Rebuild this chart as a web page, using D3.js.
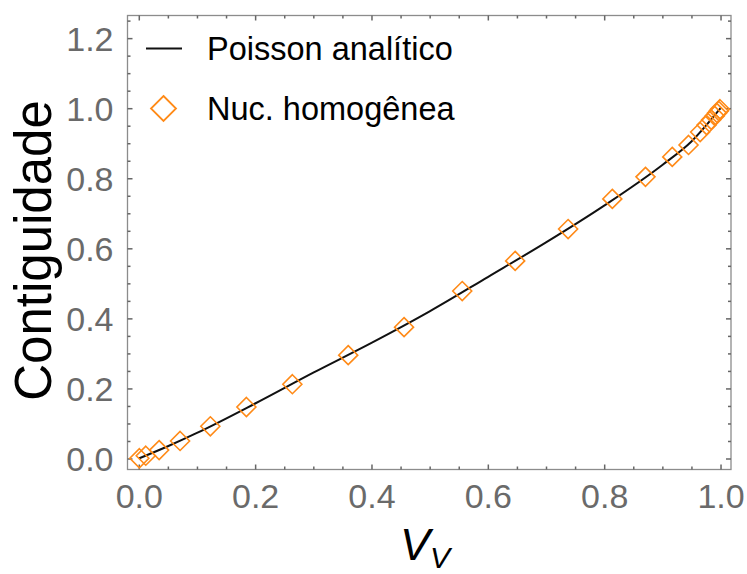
<!DOCTYPE html>
<html>
<head>
<meta charset="utf-8">
<script src="https://cdn.jsdelivr.net/npm/d3@7"></script>
<style>
  html, body { margin: 0; padding: 0; background: #fff; }
  svg { display: block; }
</style>
</head>
<body>
<svg id="chart" width="747" height="574"></svg>
<script>
// Analytic Poisson contiguity curve (V_V, C)
const curveV = [0, 0.05, 0.1, 0.2, 0.3, 0.4, 0.5, 0.6, 0.7, 0.8, 0.9, 0.95, 1.0];
const curveC = [0, 0.035, 0.073, 0.157, 0.245, 0.33, 0.42, 0.518, 0.617, 0.722, 0.838, 0.905, 1.0];

// Simulated homogeneous nucleation (V_V, C)
const simV = [0.001, 0.012, 0.035, 0.071, 0.123, 0.185, 0.264, 0.360, 0.456, 0.556, 0.647, 0.738, 0.814, 0.871, 0.917, 0.945, 0.965, 0.976, 0.984, 0.990, 0.994, 0.997, 0.999];
const simC = [0.0007, 0.008, 0.024, 0.050, 0.092, 0.147, 0.212, 0.295, 0.375, 0.478, 0.564, 0.655, 0.741, 0.804, 0.861, 0.895, 0.932, 0.952, 0.967, 0.978, 0.986, 0.992, 0.997];

const xTicks = [0, 0.2, 0.4, 0.6, 0.8, 1.0];
const yTicks = [0, 0.2, 0.4, 0.6, 0.8, 1.0, 1.2];
const legendLabels = ["Poisson analítico", "Nuc. homogênea"];

const svg = d3.select("#chart");
const frame = { left: 127.5, right: 731, top: 15.5, bottom: 469.5 };

const x = d3.scaleLinear().domain([-0.0194, 1.018]).range([frame.left, frame.right]);
const y = d3.scaleLinear().domain([-0.0314, 1.2646]).range([frame.bottom, frame.top]);

const frameColor = "#8c8c8c";
const labelColor = "#6a6a6a";
const orange = "#ff8a17";
const font = "'Liberation Sans', Arial, sans-serif";

const minorX = d3.range(0, 1.0001, 0.05).filter(v => !xTicks.some(t => Math.abs(t - v) < 1e-6));
const minorY = d3.range(0, 1.2501, 0.05).filter(v => !yTicks.some(t => Math.abs(t - v) < 1e-6));

// Frame
svg.append("rect")
  .attr("x", frame.left).attr("y", frame.top)
  .attr("width", frame.right - frame.left).attr("height", frame.bottom - frame.top)
  .attr("fill", "none").attr("stroke", frameColor).attr("stroke-width", 1.3);

// Axes with inward ticks on all four sides
function styleAxis(g) {
  g.select(".domain").remove();
  g.selectAll(".tick line").attr("stroke", "#666").attr("stroke-width", 1.5);
}
const bottomMajor = svg.append("g").attr("transform", `translate(0,${frame.bottom})`)
  .call(d3.axisBottom(x).tickValues(xTicks).tickSizeInner(-5).tickSizeOuter(0).tickPadding(14).tickFormat(d3.format(".1f")));
styleAxis(bottomMajor);
bottomMajor.selectAll("text").attr("font-family", font).attr("font-size", 34).attr("fill", labelColor).attr("dy", "0.71em");
svg.append("g").attr("transform", `translate(0,${frame.bottom})`)
  .call(d3.axisBottom(x).tickValues(minorX).tickSizeInner(-3).tickSizeOuter(0).tickFormat("")).call(styleAxis);
svg.append("g").attr("transform", `translate(0,${frame.top})`)
  .call(d3.axisTop(x).tickValues(xTicks).tickSizeInner(-5).tickSizeOuter(0).tickFormat("")).call(styleAxis);
svg.append("g").attr("transform", `translate(0,${frame.top})`)
  .call(d3.axisTop(x).tickValues(minorX).tickSizeInner(-3).tickSizeOuter(0).tickFormat("")).call(styleAxis);

const leftMajor = svg.append("g").attr("transform", `translate(${frame.left},0)`)
  .call(d3.axisLeft(y).tickValues(yTicks).tickSizeInner(-5).tickSizeOuter(0).tickPadding(14).tickFormat(d3.format(".1f")));
styleAxis(leftMajor);
leftMajor.selectAll("text").attr("font-family", font).attr("font-size", 34).attr("fill", labelColor).attr("dy", "0.36em");
svg.append("g").attr("transform", `translate(${frame.left},0)`)
  .call(d3.axisLeft(y).tickValues(minorY).tickSizeInner(-3).tickSizeOuter(0).tickFormat("")).call(styleAxis);
svg.append("g").attr("transform", `translate(${frame.right},0)`)
  .call(d3.axisRight(y).tickValues(yTicks).tickSizeInner(-5).tickSizeOuter(0).tickFormat("")).call(styleAxis);
svg.append("g").attr("transform", `translate(${frame.right},0)`)
  .call(d3.axisRight(y).tickValues(minorY).tickSizeInner(-3).tickSizeOuter(0).tickFormat("")).call(styleAxis);

// Axis titles
svg.append("text")
  .attr("transform", `translate(51,${(frame.top + frame.bottom) / 2 + 8}) rotate(-90)`)
  .attr("text-anchor", "middle")
  .attr("font-family", font).attr("font-size", 51).attr("fill", "#000")
  .text("Contiguidade");

const xt = svg.append("text")
  .attr("x", 400).attr("y", 560)
  .attr("font-family", font).attr("font-size", 45).attr("font-style", "italic").attr("fill", "#000");
xt.append("tspan").text("V");
xt.append("tspan").attr("font-size", 30).attr("dy", 8).text("V");

// Analytic curve
const plot = svg.append("g");
const curvePts = curveV.map((v, i) => [v, curveC[i]]);
plot.append("path")
  .datum(curvePts)
  .attr("fill", "none").attr("stroke", "#111").attr("stroke-width", 2)
  .attr("d", d3.line().x(d => x(d[0])).y(d => y(d[1])).curve(d3.curveMonotoneX));

// Diamond markers
const diamond = r => `M0,${-r}L${r},0L0,${r}L${-r},0Z`;
plot.selectAll("path.sim")
  .data(simV.map((v, i) => [v, simC[i]]))
  .join("path")
  .attr("class", "sim")
  .attr("transform", d => `translate(${x(d[0])},${y(d[1])})`)
  .attr("d", diamond(9.5))
  .attr("fill", "none").attr("stroke", orange).attr("stroke-width", 1.6);

// Legend
const legend = svg.append("g");
legend.append("line")
  .attr("x1", 146).attr("x2", 182).attr("y1", 48.5).attr("y2", 48.5)
  .attr("stroke", "#111").attr("stroke-width", 2);
legend.append("path")
  .attr("transform", "translate(163.5,108.5)")
  .attr("d", diamond(12.5))
  .attr("fill", "none").attr("stroke", orange).attr("stroke-width", 1.8);
legend.selectAll("text.lg")
  .data(legendLabels)
  .join("text")
  .attr("class", "lg")
  .attr("x", 207)
  .attr("y", (d, i) => 60 + i * 60)
  .attr("font-family", font).attr("font-size", 32.5).attr("fill", "#000")
  .text(d => d);
</script>
</body>
</html>
